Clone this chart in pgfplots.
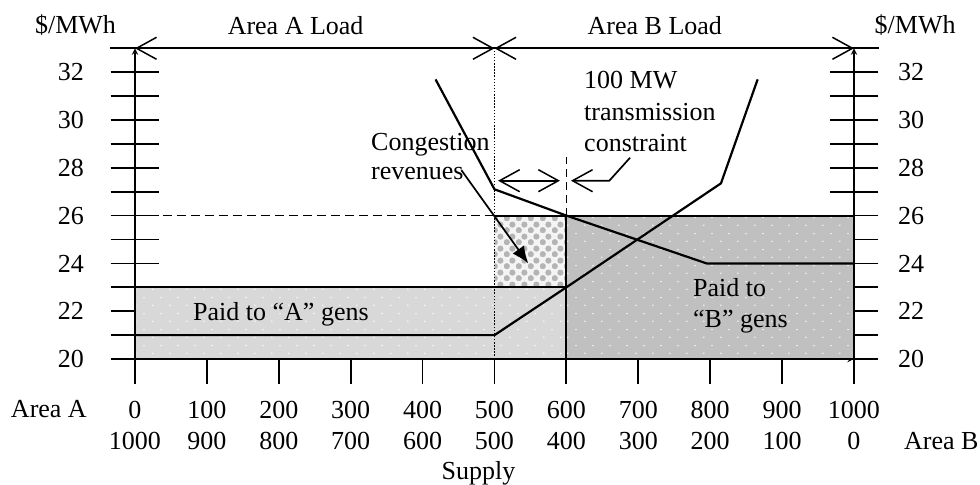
\documentclass[border=0pt]{standalone}
\usepackage{fontspec}
\setmainfont{Liberation Serif}
\usepackage{pgfplots}
\pgfplotsset{compat=1.18}
\usetikzlibrary{arrows.meta,patterns}

\definecolor{bgray}{RGB}{192,192,192}
\definecolor{agray}{RGB}{216,216,216}
\definecolor{cback}{RGB}{244,244,244}
\definecolor{ccirc}{RGB}{180,180,180}

% sparse white dots and "balls" fills
\pgfdeclarepatternformonly{sparsedots}{\pgfpoint{0bp}{0bp}}{\pgfpoint{16.6bp}{16bp}}{\pgfpoint{16.6bp}{16bp}}{%
  \pgfpathcircle{\pgfpoint{4bp}{4bp}}{0.8bp}%
  \pgfpathcircle{\pgfpoint{12.3bp}{12bp}}{0.8bp}%
  \pgfusepath{fill}}
\pgfdeclarepatternformonly{balls}{\pgfpoint{0bp}{0bp}}{\pgfpoint{12bp}{12bp}}{\pgfpoint{12bp}{12bp}}{%
  \pgfpathcircle{\pgfpoint{3bp}{3bp}}{3.3bp}%
  \pgfpathcircle{\pgfpoint{9bp}{9bp}}{3.3bp}%
  \pgfusepath{fill}}

\pgfplotsset{
  samebox/.style={
    x=0.719bp, y=23.9bp,
    xmin=0, xmax=1000, ymin=20, ymax=33,
    at={(0,0)}, anchor=south west,
    clip=false, no marks,
    axis line style={line width=1.9bp,-},
    tick style={line width=1.8bp,black},
    minor tick style={line width=1.8bp,black},
  },
}
\tikzset{
  bt/.tip={Straight Barb[length=20bp,width=22bp,line width=1.5bp]},
  barb/.style={line width=1.8bp,bt-bt},
}

\begin{document}
\fontsize{26bp}{31bp}\selectfont
\begin{tikzpicture}
\path[use as bounding box] (-135bp,-126bp) rectangle (845bp,359bp);

% left price axis
\begin{axis}[samebox,
  axis x line=none, axis y line=left,
  ytick={20,22,...,32}, yticklabels={20,22,24,26,28,30,32},
  minor ytick={21,23,...,31},
  tick align=center, major tick length=49bp, minor tick length=49bp,
  yticklabel style={anchor=east, inner sep=0pt, xshift=-26.5bp}]
\end{axis}

% right price axis
\begin{axis}[samebox,
  axis x line=none, axis y line=right,
  ytick={20,22,...,32}, yticklabels={20,22,24,26,28,30,32},
  minor ytick={21,23,...,31},
  tick align=center, major tick length=49bp, minor tick length=49bp,
  yticklabel style={anchor=west, inner sep=0pt, xshift=19.5bp}]
\end{axis}

\begin{axis}[samebox,
  axis x line=bottom, axis y line=none,
  xtick={0,100,...,1000},
  xticklabels={0,100,200,300,400,500,600,700,800,900,1000},
  tick align=outside, major tick length=25bp,
  xticklabel style={anchor=base, inner sep=0pt, yshift=-34.3bp},
  extra x ticks={0,100,...,1000},
  extra x tick labels={1000,900,800,700,600,500,400,300,200,100,0},
  extra x tick style={xticklabel style={yshift=-31bp}}]

  % payments to A generators
  \addplot[draw=black, line width=1.9bp, pattern=sparsedots, pattern color=white, preaction={fill=agray}]
    coordinates {(0,20) (0,23) (600,23) (600,20) (0,20)};
  % congestion revenues
  \addplot[draw=none, pattern=balls, pattern color=ccirc, preaction={fill=cback}]
    coordinates {(500,23) (500,26) (600,26) (600,23) (500,23)};
  % payments to B generators
  \addplot[draw=black, line width=1.9bp, pattern=sparsedots, pattern color=white, preaction={fill=bgray}]
    coordinates {(600,20) (600,26) (1000,26) (1000,20) (600,20)};
  \addplot[black, line width=1.9bp] coordinates {(500,26) (600,26)};
  \addplot[black, line width=1.9bp] coordinates {(0,23) (600,23)};

  \addplot[black, line width=1.7bp, dash pattern=on 9bp off 5bp] coordinates {(0,26) (500,26)};
  \addplot[black, line width=1.3bp, dash pattern=on 1.5bp off 1.6bp] coordinates {(500,20) (500,33)};
  \addplot[black, line width=1.7bp, dash pattern=on 8bp off 5bp] coordinates {(600,26) (600,28.45)};

  % demand (load) and supply curves
  \addplot[black, line width=2.2bp] coordinates {(418,31.7) (500,27.1) (600,26) (795,24) (1000,24)};
  \addplot[black, line width=2.2bp] coordinates {(0,21) (500,21) (600,23) (815,27.35) (866,31.7)};

  % top load arrows
  \addplot[black, line width=1.8bp] coordinates {(-35,33) (1035,33)};
  \addplot[barb] coordinates {(0,33) (500,33)};
  \addplot[barb] coordinates {(500,33) (1000,33)};

  % transmission constraint arrows
  \addplot[barb] coordinates {(505,27.46) (591,27.46)};
  \addplot[line width=1.7bp, -bt] coordinates {(688.5,28.42) (659.7,27.46) (606.4,27.46)};
  \addplot[line width=1.7bp, -{Latex[length=17bp,width=14bp]}]
    coordinates {(454,27.9) (547,24.0)};

  \node[anchor=base, inner sep=0pt] at (axis cs:-82.8,33.64) {\$/MWh};
  \node[anchor=base, inner sep=0pt] at (axis cs:1085,33.64) {\$/MWh};
  \node[anchor=base, inner sep=0pt] at (axis cs:223.4,33.56) {Area A Load};
  \node[anchor=base, inner sep=0pt] at (axis cs:723,33.56) {Area B Load};

  \node[anchor=base west, inner sep=0pt] at (axis cs:80.7,21.63) {Paid to “A” gens};
  \node[anchor=base west, inner sep=0pt] at (axis cs:776,22.61) {Paid to};
  \node[anchor=base west, inner sep=0pt] at (axis cs:776,21.3) {“B” gens};
  \node[anchor=base west, inner sep=0pt] at (axis cs:328.2,28.74) {Congestion};
  \node[anchor=base west, inner sep=0pt] at (axis cs:328.2,27.49) {revenues};
  \node[anchor=base west, inner sep=0pt] at (axis cs:624.5,31.33) {100 MW};
  \node[anchor=base west, inner sep=0pt] at (axis cs:624.5,30.0) {transmission};
  \node[anchor=base west, inner sep=0pt] at (axis cs:624.5,28.70) {constraint};

  \node[anchor=base east, inner sep=0pt] at (axis cs:-66.8,17.56) {Area A};
  \node[anchor=base west, inner sep=0pt] at (axis cs:1069.5,16.22) {Area B};
  \node[anchor=base, inner sep=0pt] at (axis cs:477.7,14.94) {Supply};
\end{axis}
\end{tikzpicture}
\end{document}
